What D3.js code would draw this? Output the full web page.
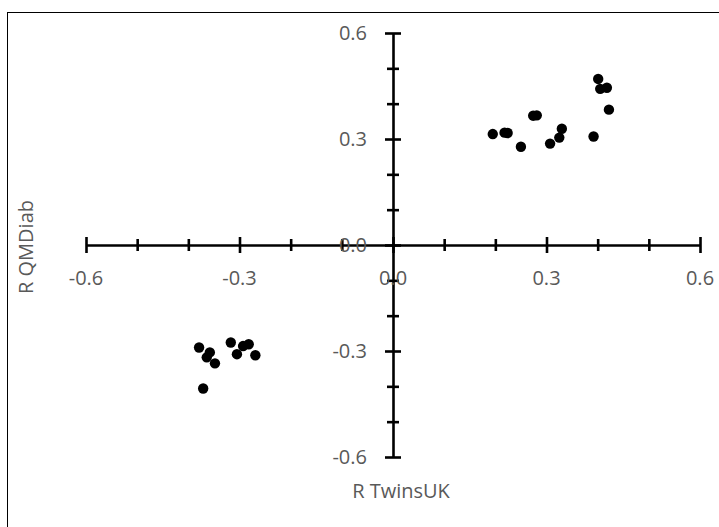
<!DOCTYPE html>
<html>
<head>
<meta charset="utf-8">
<script src="https://cdn.jsdelivr.net/npm/d3@7"></script>
<style>
  html, body { margin: 0; padding: 0; background: #fff; }
  svg { display: block; }
  text { font-family: "Open Sans", "Liberation Sans", sans-serif; fill: #595959; }
</style>
</head>
<body>
<svg id="chart" width="719" height="527"></svg>
<script>
// Correlation of each feature in TwinsUK (x) vs QMDiab (y)
const twinsUK = [
  0.195, 0.218, 0.224, 0.250, 0.274, 0.281, 0.307, 0.325, 0.330, 0.392, 0.401, 0.405, 0.418, 0.422,
  -0.379, -0.358, -0.364, -0.348, -0.317, -0.293, -0.282, -0.305, -0.269, -0.371
];
const qmDiab = [
  0.314, 0.318, 0.317, 0.278, 0.366, 0.367, 0.287, 0.304, 0.329, 0.307, 0.470, 0.442, 0.445, 0.383,
  -0.290, -0.304, -0.318, -0.335, -0.276, -0.286, -0.281, -0.309, -0.312, -0.406
];
const majorTicks = [-0.6, -0.3, 0.0, 0.3, 0.6];
const minorTicks = [-0.5, -0.4, -0.2, -0.1, 0.1, 0.2, 0.4, 0.5];
const xTitle = "R TwinsUK";
const yTitle = "R QMDiab";

const svg = d3.select("#chart");
const W = 719, H = 527;

// outer frame (right and bottom edges run past the canvas)
svg.append("rect")
  .attr("x", 7.5).attr("y", 12.5)
  .attr("width", W + 10).attr("height", H + 10)
  .attr("fill", "none").attr("stroke", "#000").attr("stroke-width", 1);

const x = d3.scaleLinear().domain([-0.6, 0.6]).range([86, 700]);
const y = d3.scaleLinear().domain([-0.6, 0.6]).range([457, 33]);
const fmt = d => d3.format(".1f")(d).replace("\u2212", "-");
const x0 = x(0), y0 = y(0);

// axes crossing at the origin, ticks crossing the line
const xAxis = svg.append("g").attr("transform", `translate(0,${y0})`)
  .call(d3.axisBottom(x).tickValues(majorTicks).tickSize(8).tickSizeOuter(0).tickFormat(""));
xAxis.selectAll(".tick line").attr("y1", -8).attr("y2", 8);
const xMinorG = svg.append("g").attr("transform", `translate(0,${y0})`)
  .call(d3.axisBottom(x).tickValues(minorTicks).tickSize(6).tickSizeOuter(0).tickFormat(""));
xMinorG.selectAll(".tick line").attr("y1", -6).attr("y2", 6);
xMinorG.select(".domain").remove();

const yAxis = svg.append("g").attr("transform", `translate(${x0},0)`)
  .call(d3.axisLeft(y).tickValues(majorTicks).tickSize(8).tickSizeOuter(0).tickFormat(""));
yAxis.selectAll(".tick line").attr("x1", -8).attr("x2", 8);
const yMinorG = svg.append("g").attr("transform", `translate(${x0},0)`)
  .call(d3.axisLeft(y).tickValues(minorTicks).tickSize(6).tickSizeOuter(0).tickFormat(""));
yMinorG.selectAll(".tick line").attr("x1", -6).attr("x2", 6);
yMinorG.select(".domain").remove();

svg.selectAll(".domain, .tick line").attr("stroke", "#000").attr("stroke-width", 2.6);

// tick labels
svg.append("g").selectAll("text").data(majorTicks).join("text")
  .attr("x", d => x(d)).attr("y", y0 + 40)
  .attr("text-anchor", "middle").attr("font-size", 20)
  .text(d => fmt(d));
svg.append("g").selectAll("text").data(majorTicks).join("text")
  .attr("x", x0 - 26).attr("y", d => y(d)).attr("dy", "0.36em")
  .attr("text-anchor", "end").attr("font-size", 20)
  .text(d => fmt(d));

// points
svg.append("g").selectAll("circle").data(twinsUK).join("circle")
  .attr("cx", d => x(d)).attr("cy", (d, i) => y(qmDiab[i]))
  .attr("r", 5.2).attr("fill", "#000");

// axis titles
svg.append("text").attr("x", 401).attr("y", 498)
  .attr("text-anchor", "middle").attr("font-size", 20).text(xTitle);
svg.append("text").attr("transform", "translate(33,247) rotate(-90)")
  .attr("text-anchor", "middle").attr("font-size", 20).text(yTitle);
</script>
</body>
</html>
